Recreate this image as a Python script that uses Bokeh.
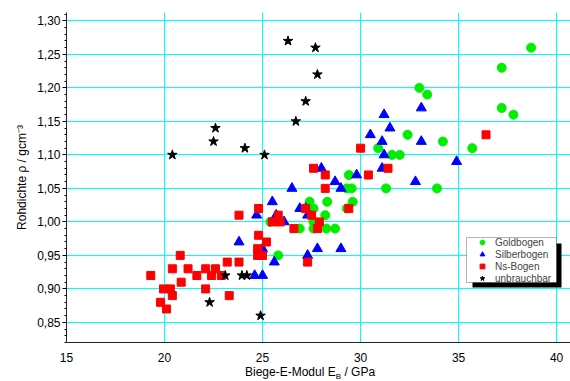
from bokeh.plotting import figure
from bokeh.models import (FixedTicker, Legend, LegendItem, Range1d, BoxAnnotation, Div)
from bokeh.layouts import column
from bokeh.embed import file_html
from bokeh.resources import INLINE

# ---- data ----
gold_x = [38.7, 37.2, 33.0, 33.4, 37.2, 37.8, 32.4, 34.2, 30.9, 35.7, 31.6, 32.0, 29.4, 31.3, 33.9,
          29.3, 29.55, 29.6, 27.4, 28.3, 27.6, 28.2, 29.3, 27.6, 26.9, 27.6, 28.25, 28.7, 25.4, 25.8]
gold_y = [1.26, 1.23, 1.20, 1.19, 1.17, 1.16, 1.13, 1.12, 1.11, 1.11, 1.10, 1.10, 1.07, 1.05, 1.05,
          1.05, 1.05, 1.03, 1.03, 1.03, 1.02, 1.01, 1.02, 1.00, 0.99, 0.99, 0.99, 0.99, 1.00, 0.95]

silber_x = [28.0, 29.8, 28.7, 26.5, 29.0, 25.5, 26.9, 27.2, 24.7, 25.7, 27.3, 26.1, 23.8, 25.0, 25.6,
            27.8, 29.0, 27.3, 24.6, 25.0, 33.1, 31.2, 31.5, 30.5, 31.1, 33.1, 31.2, 31.1, 32.8, 34.9]
silber_y = [1.08, 1.07, 1.06, 1.05, 1.05, 1.03, 1.02, 1.02, 1.01, 1.01, 1.01, 1.00, 0.97, 0.96, 0.94,
            0.96, 0.96, 0.95, 0.92, 0.92, 1.17, 1.16, 1.14, 1.13, 1.12, 1.12, 1.10, 1.08, 1.06, 1.09]

ns_x = [19.3, 20.4, 20.8, 21.2, 21.65, 22.1, 22.6, 22.4, 22.9, 23.2, 23.8, 20.85, 19.95, 20.3, 20.4,
        19.8, 20.1, 22.1, 23.3, 24.8, 25.2, 24.75, 25.0, 24.75, 27.6, 28.2, 28.2, 23.8, 24.8, 25.8,
        25.5, 25.9, 27.2, 27.5, 27.9, 26.6, 27.8, 29.4, 27.3, 30.0, 30.4, 31.4, 36.4]
ns_y = [0.92, 0.93, 0.95, 0.93, 0.92, 0.93, 0.93, 0.92, 0.92, 0.94, 0.94, 0.91, 0.90, 0.90, 0.89,
        0.88, 0.87, 0.90, 0.89, 0.98, 0.97, 0.96, 0.95, 0.95, 1.08, 1.07, 1.05, 1.01, 1.02, 1.01,
        1.00, 1.00, 1.02, 1.01, 1.00, 0.99, 0.99, 1.02, 0.94, 1.11, 1.07, 1.08, 1.13]

unbr_x = [26.3, 27.7, 27.8, 27.2, 26.7, 22.6, 22.5, 24.1, 20.4, 25.1, 23.1, 23.95, 24.2, 22.3, 24.9]
unbr_y = [1.27, 1.26, 1.22, 1.18, 1.15, 1.14, 1.12, 1.11, 1.10, 1.10, 0.92, 0.92, 0.92, 0.88, 0.86]

series_names = ["Goldbogen", "Silberbogen", "Ns-Bogen", "unbrauchbar"]

x_ticks = [15, 20, 25, 30, 35, 40]
y_ticks = [0.85, 0.90, 0.95, 1.00, 1.05, 1.10, 1.15, 1.20, 1.25, 1.30]
y_tick_labels = ["0,85", "0,90", "0,95", "1,00", "1,05", "1,10", "1,15", "1,20", "1,25", "1,30"]

FONT = "Liberation Sans"
GREEN = "#00EE00"
BLUE = "#0000FF"
RED = "#FF0000"
CYAN = "#00FFFF"

p = figure(width=570, height=366, output_backend="svg", toolbar_location=None,
           x_range=Range1d(15, 40.71), y_range=Range1d(0.82, 1.3125),
           min_border_left=66, min_border_right=0, min_border_top=12, min_border_bottom=24)
p.outline_line_color = None
p.background_fill_color = "white"
p.border_fill_color = "white"

# grid
p.xgrid.ticker = FixedTicker(ticks=x_ticks)
p.ygrid.ticker = FixedTicker(ticks=y_ticks)
p.grid.grid_line_color = CYAN
p.grid.grid_line_width = 1
p.grid.grid_line_alpha = 1

# x axis
p.xaxis.ticker = FixedTicker(ticks=x_ticks)
p.xaxis.major_tick_line_color = None
p.xaxis.minor_tick_line_color = None
p.xaxis.major_label_standoff = 4
p.xaxis.major_label_text_font = FONT
p.xaxis.major_label_text_font_size = "12px"
p.xaxis.major_label_text_color = "black"
p.xaxis.axis_line_color = "#222222"

# y axis
minor = [round(0.82 + 0.01 * i, 2) for i in range(50)]
p.yaxis.ticker = FixedTicker(ticks=y_ticks, minor_ticks=minor)
p.yaxis.major_label_overrides = {t: s for t, s in zip(y_ticks, y_tick_labels)}
p.yaxis.major_tick_in = 0
p.yaxis.major_tick_out = 4
p.yaxis.minor_tick_in = 0
p.yaxis.minor_tick_out = 2
p.yaxis.major_tick_line_color = "black"
p.yaxis.minor_tick_line_color = "black"
p.yaxis.major_label_standoff = 2
p.yaxis.major_label_text_font = FONT
p.yaxis.major_label_text_font_size = "12px"
p.yaxis.major_label_text_color = "black"
p.yaxis.axis_line_color = "#222222"
p.yaxis.axis_label = "Rohdichte \u03c1 / gcm\u207b\u00b3"
p.yaxis.axis_label_text_font = FONT
p.yaxis.axis_label_text_font_size = "12px"
p.yaxis.axis_label_text_font_style = "normal"
p.yaxis.axis_label_text_color = "black"
p.yaxis.axis_label_standoff = 5

# data
rg = p.scatter(gold_x, gold_y, marker="circle", size=9, fill_color=GREEN, line_color=GREEN)
rs = p.scatter(silber_x, silber_y, marker="triangle", size=10, fill_color=BLUE, line_color=BLUE)
rn = p.scatter(ns_x, ns_y, marker="square", size=8, fill_color=RED, line_color=RED)
ru = p.scatter(unbr_x, unbr_y, marker="star", size=10, fill_color="black", line_color="black")

# legend box with drop shadow
shadow = BoxAnnotation(left=472, right=561, top=243, bottom=287,
                       left_units="canvas", right_units="canvas",
                       top_units="canvas", bottom_units="canvas",
                       fill_color="black", fill_alpha=1, line_color=None)
p.add_layout(shadow)
frame_box = BoxAnnotation(left=466, right=556, top=237, bottom=282,
                          left_units="canvas", right_units="canvas",
                          top_units="canvas", bottom_units="canvas",
                          fill_color="white", fill_alpha=1, line_color="black", line_width=1)
p.add_layout(frame_box)

legend = Legend(items=[LegendItem(label=n, renderers=[r]) for n, r in zip(series_names, [rg, rs, rn, ru])],
                location=(408, 58), orientation="vertical",
                border_line_color=None, background_fill_alpha=0,
                label_text_font=FONT, label_text_font_size="10px",
                padding=0, spacing=0, margin=0,
                glyph_width=16, glyph_height=12, label_height=10, label_standoff=5)
p.add_layout(legend)

# x axis title (with subscript) as a text line below the plot
xtitle = Div(text='Biege-E-Modul E<span style="font-size:8px;position:relative;top:3px">B</span> / GPa',
             width=570, height=15, margin=(0, 0, 0, 0),
             styles={"padding-left": "245px", "font-family": "Liberation Sans", "font-size": "12px",
                     "line-height": "13px", "color": "black", "white-space": "nowrap",
                     "box-sizing": "border-box", "background-color": "white"})

layout = column(p, xtitle, spacing=0)
open("out.html", "w").write(file_html(layout, INLINE))
